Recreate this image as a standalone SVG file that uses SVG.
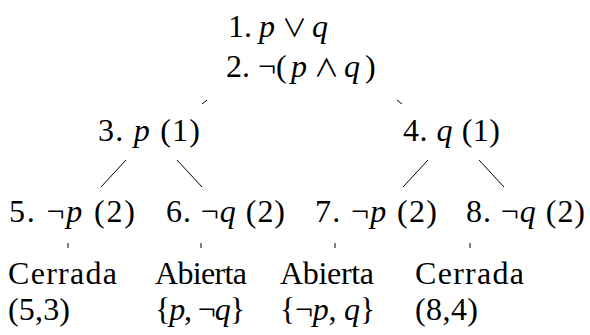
<svg xmlns="http://www.w3.org/2000/svg" width="590" height="335" viewBox="0 0 590 335">
<style>
text{font-family:"Liberation Serif","DejaVu Serif",serif;font-size:32px;fill:#000}
.i{font-style:italic}
.m{font-family:"Noto Sans CJK SC","DejaVu Sans",sans-serif;font-size:25px}
.e{stroke:#000;stroke-width:1;fill:none}
</style>
<rect width="590" height="335" fill="#fff"/>
<g id="edges">
<line class="e" x1="207" y1="100" x2="202" y2="104"/>
<line class="e" x1="397" y1="100" x2="402" y2="104"/>
<line class="e" x1="126" y1="160" x2="101" y2="187"/>
<line class="e" x1="177" y1="160" x2="202" y2="187"/>
<line class="e" x1="428" y1="160" x2="403" y2="187"/>
<line class="e" x1="479" y1="160" x2="504" y2="187"/>
<line class="e" x1="68" y1="243" x2="68" y2="248"/>
<line class="e" x1="201" y1="243" x2="201" y2="248"/>
<line class="e" x1="335" y1="243" x2="335" y2="248"/>
<line class="e" x1="470" y1="243" x2="470" y2="248"/>
</g>
<g id="n1">
<text y="37"><tspan x="228">1.</tspan><tspan x="259" class="i">p</tspan><tspan x="282" class="m">∨</tspan><tspan x="312" class="i">q</tspan></text>
<text y="77"><tspan x="226">2.</tspan><tspan x="258">¬(</tspan><tspan x="291" class="i">p</tspan><tspan x="314" class="m">∧</tspan><tspan x="344" class="i">q</tspan><tspan x="365">)</tspan></text>
</g>
<g id="n3"><text x="98" y="141" textLength="102" lengthAdjust="spacing">3. <tspan class="i">p</tspan> (1)</text></g>
<g id="n4"><text x="403" y="141" textLength="97" lengthAdjust="spacing">4. <tspan class="i">q</tspan> (1)</text></g>
<g id="n5"><text x="9" y="222" textLength="126" lengthAdjust="spacing">5. ¬<tspan class="i">p</tspan> (2)</text></g>
<g id="n6"><text x="166" y="222" textLength="119" lengthAdjust="spacing">6. ¬<tspan class="i">q</tspan> (2)</text></g>
<g id="n7"><text x="315" y="222" textLength="122" lengthAdjust="spacing">7. ¬<tspan class="i">p</tspan> (2)</text></g>
<g id="n8"><text x="466" y="222" textLength="119" lengthAdjust="spacing">8. ¬<tspan class="i">q</tspan> (2)</text></g>
<g id="l1"><text x="8" y="284" textLength="109" lengthAdjust="spacing">Cerrada</text><text x="8" y="320" textLength="62" lengthAdjust="spacing">(5,3)</text></g>
<g id="l2"><text x="155" y="284" textLength="92" lengthAdjust="spacing">Abierta</text><text x="155" y="320" textLength="90" lengthAdjust="spacing">{<tspan class="i">p</tspan>, ¬<tspan class="i">q</tspan>}</text></g>
<g id="l3"><text x="280" y="284" textLength="94" lengthAdjust="spacing">Abierta</text><text x="280" y="320" textLength="95" lengthAdjust="spacing">{¬<tspan class="i">p</tspan>, <tspan class="i">q</tspan>}</text></g>
<g id="l4"><text x="415" y="284" textLength="109" lengthAdjust="spacing">Cerrada</text><text x="415" y="320" textLength="63" lengthAdjust="spacing">(8,4)</text></g>
</svg>
